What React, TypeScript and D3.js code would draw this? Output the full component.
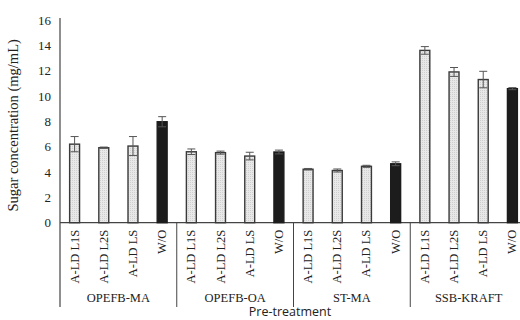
import React from 'react';
import * as d3 from 'd3';

const groups = ['OPEFB-MA', 'OPEFB-OA', 'ST-MA', 'SSB-KRAFT'];
const treatments = ['A-LD L1S', 'A-LD L2S', 'A-LD LS', 'W/O'];
const means = [
  6.2, 5.92, 6.05, 7.97,
  5.6, 5.53, 5.26, 5.58,
  4.22, 4.12, 4.45, 4.65,
  13.6, 11.9, 11.3, 10.58,
];
const errors = [
  0.6, 0.05, 0.75, 0.4,
  0.22, 0.12, 0.3, 0.15,
  0.06, 0.12, 0.08, 0.15,
  0.3, 0.35, 0.65, 0.08,
];
const yTicks = [0, 2, 4, 6, 8, 10, 12, 14, 16];

const W = 520, H = 320;
const left = 60, right = 527, top = 20, bottom = 222.7;
const serif = '"Liberation Serif", "Times New Roman", serif';

const App = () => {
  const rows = groups.flatMap((g, gi) =>
    treatments.map((t, ti) => ({
      key: g + '|' + t,
      group: g,
      label: t,
      wo: t === 'W/O',
      value: means[gi * 4 + ti],
      err: errors[gi * 4 + ti],
    }))
  );
  const x = d3.scaleBand().domain(rows.map(r => r.key)).range([left, right]).paddingInner(0.66).paddingOuter(0.33);
  const y = d3.scaleLinear().domain([0, 16]).range([bottom, top]);
  const groupW = (right - left) / groups.length;
  const bw = x.bandwidth();

  return (
    <svg width={W} height={H} style={{ position: 'absolute', left: 0, top: 0, background: 'white' }}>
      <defs>
        <pattern id="dots" width="2" height="2" patternUnits="userSpaceOnUse">
          <rect width="2" height="2" fill="#e8e8e8" />
          <rect width="1" height="1" fill="#cfcfcf" />
        </pattern>
      </defs>
      {/* axes */}
      <line x1={left} x2={left} y1={top - 2} y2={307} stroke="#444" strokeWidth={1.2} />
      <line x1={left} x2={W} y1={bottom} y2={bottom} stroke="#444" strokeWidth={1.2} />
      {yTicks.map(t => (
        <text key={t} x={51} y={y(t)} dy="0.35em" textAnchor="end" fontFamily={serif} fontSize={13} fill="#222">{t}</text>
      ))}
      <text transform={`translate(18,${(top + bottom) / 2 + 4}) rotate(-90)`} textAnchor="middle" fontFamily={serif} fontSize={14.5} fill="#222">
        Sugar concentration (mg/mL)
      </text>
      {/* group separators */}
      {groups.map((g, i) => (
        <g key={g}>
          {i > 0 && <line x1={left + i * groupW} x2={left + i * groupW} y1={bottom} y2={307} stroke="#444" strokeWidth={1} />}
          <text x={left + (i + 0.5) * groupW} y={302} textAnchor="middle" fontFamily={serif} fontSize={12.5} fill="#222">{g}</text>
        </g>
      ))}
      {/* bars */}
      {rows.map(r => {
        const cx = (x(r.key) as number) + bw / 2;
        return (
          <g key={r.key}>
            <rect x={x(r.key)} y={y(r.value)} width={bw} height={bottom - y(r.value)}
              fill={r.wo ? '#1c1c1c' : 'url(#dots)'} stroke={r.wo ? '#1c1c1c' : '#3a3a3a'} strokeWidth={1.4} />
            <line x1={cx} x2={cx} y1={y(r.value + r.err)} y2={y(r.value - r.err)} stroke="#555" strokeWidth={1} />
            <line x1={cx - 4} x2={cx + 4} y1={y(r.value + r.err)} y2={y(r.value + r.err)} stroke="#555" strokeWidth={1} />
            <line x1={cx - 4} x2={cx + 4} y1={y(r.value - r.err)} y2={y(r.value - r.err)} stroke="#555" strokeWidth={1} />
            <text transform={`translate(${cx + 4},${bottom + 7}) rotate(-90)`} textAnchor="end" fontFamily={serif} fontSize={12.5} fill="#222">
              {r.label}
            </text>
          </g>
        );
      })}
      <text x={290} y={316} textAnchor="middle" fontFamily='"Open Sans", sans-serif' fontSize={12.5} fill="#222">Pre-treatment</text>
    </svg>
  );
};

export default App;
